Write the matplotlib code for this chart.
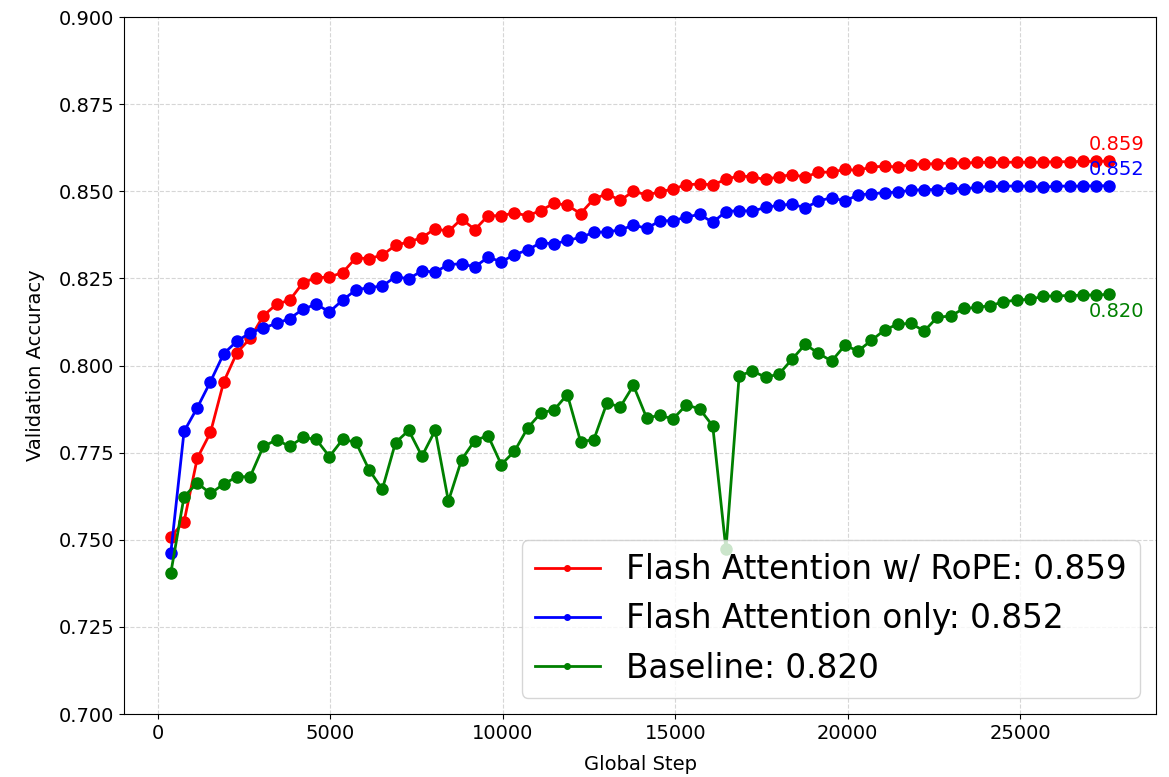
"""
Validation accuracy of the three attention variants over training.
"""
import matplotlib
matplotlib.use("Agg")
import matplotlib.pyplot as plt
import numpy as np

EVAL_INTERVAL = 383
N_EVALS = 72

# Validation accuracy read at every evaluation step
rope_acc = [
    0.7509, 0.7552, 0.7734, 0.7808, 0.7953, 0.8037, 0.8078, 0.8143, 0.8176, 0.8188,
    0.8238, 0.8252, 0.8254, 0.8267, 0.8309, 0.8307, 0.8317, 0.8345, 0.8355, 0.8367,
    0.8393, 0.8385, 0.8421, 0.8390, 0.8430, 0.8430, 0.8438, 0.8430, 0.8445, 0.8466,
    0.8460, 0.8436, 0.8478, 0.8493, 0.8474, 0.8500, 0.8490, 0.8498, 0.8507, 0.8519,
    0.8521, 0.8519, 0.8534, 0.8545, 0.8541, 0.8534, 0.8542, 0.8548, 0.8541, 0.8555,
    0.8555, 0.8563, 0.8560, 0.8570, 0.8572, 0.8570, 0.8577, 0.8579, 0.8579, 0.8582,
    0.8581, 0.8583, 0.8583, 0.8583, 0.8584, 0.8583, 0.8584, 0.8585, 0.8585, 0.8586,
    0.8586, 0.8587,
]
flash_acc = [
    0.7463, 0.7811, 0.7879, 0.7954, 0.8034, 0.8070, 0.8094, 0.8108, 0.8121, 0.8135,
    0.8162, 0.8176, 0.8154, 0.8188, 0.8217, 0.8224, 0.8228, 0.8255, 0.8249, 0.8272,
    0.8268, 0.8290, 0.8292, 0.8283, 0.8311, 0.8298, 0.8318, 0.8332, 0.8353, 0.8349,
    0.8359, 0.8368, 0.8382, 0.8384, 0.8389, 0.8403, 0.8394, 0.8415, 0.8416, 0.8426,
    0.8434, 0.8411, 0.8442, 0.8445, 0.8443, 0.8454, 0.8460, 0.8463, 0.8453, 0.8472,
    0.8482, 0.8472, 0.8490, 0.8493, 0.8496, 0.8498, 0.8503, 0.8505, 0.8505, 0.8510,
    0.8506, 0.8512, 0.8514, 0.8514, 0.8516, 0.8514, 0.8512, 0.8515, 0.8515, 0.8515,
    0.8516, 0.8516,
]
baseline_acc = [
    0.7405, 0.7624, 0.7663, 0.7633, 0.7660, 0.7681, 0.7681, 0.7768, 0.7787, 0.7768,
    0.7794, 0.7788, 0.7739, 0.7788, 0.7780, 0.7701, 0.7645, 0.7779, 0.7814, 0.7740,
    0.7814, 0.7611, 0.7730, 0.7785, 0.7799, 0.7716, 0.7754, 0.7821, 0.7864, 0.7873,
    0.7917, 0.7782, 0.7787, 0.7893, 0.7881, 0.7943, 0.7850, 0.7857, 0.7847, 0.7887,
    0.7876, 0.7827, 0.7473, 0.7971, 0.7984, 0.7967, 0.7975, 0.8018, 0.8061, 0.8035,
    0.8013, 0.8058, 0.8042, 0.8072, 0.8102, 0.8119, 0.8121, 0.8099, 0.8139, 0.8142,
    0.8164, 0.8167, 0.8172, 0.8183, 0.8188, 0.8190, 0.8199, 0.8200, 0.8201, 0.8202,
    0.8203, 0.8204,
]

labels = ["Flash Attention w/ RoPE", "Flash Attention only", "Baseline"]
colors = ["red", "blue", "green"]
label_offsets = [12, 12, -12]


def main():
    steps = EVAL_INTERVAL * np.arange(1, N_EVALS + 1)
    series = [rope_acc, flash_acc, baseline_acc]

    fig, ax = plt.subplots(figsize=(11.69, 7.77), dpi=100)
    fig.subplots_adjust(left=0.106, right=0.989, top=0.978, bottom=0.081)

    for acc, label, color, dy in zip(series, labels, colors, label_offsets):
        final = acc[-1]
        ax.plot(steps, acc, color=color, marker='o', markersize=8, linewidth=2,
                label=f"{label}: {final:.3f}")
        ax.annotate(f"{final:.3f}", (steps[-1], final), textcoords='offset points',
                    xytext=(5, dy), ha='center', va='center', color=color, fontsize=14)

    ax.set_ylim(0.70, 0.90)
    ax.set_xlabel("Global Step", fontsize=14, labelpad=9)
    ax.set_ylabel("Validation Accuracy", fontsize=14, labelpad=10)
    ax.tick_params(labelsize=14)
    ax.grid(True, linestyle='--', color='#cccccc', alpha=0.8)
    ax.legend(loc='lower right', fontsize=23.5, markerscale=0.5)

    fig.savefig("out.png")


if __name__ == '__main__':
    main()
